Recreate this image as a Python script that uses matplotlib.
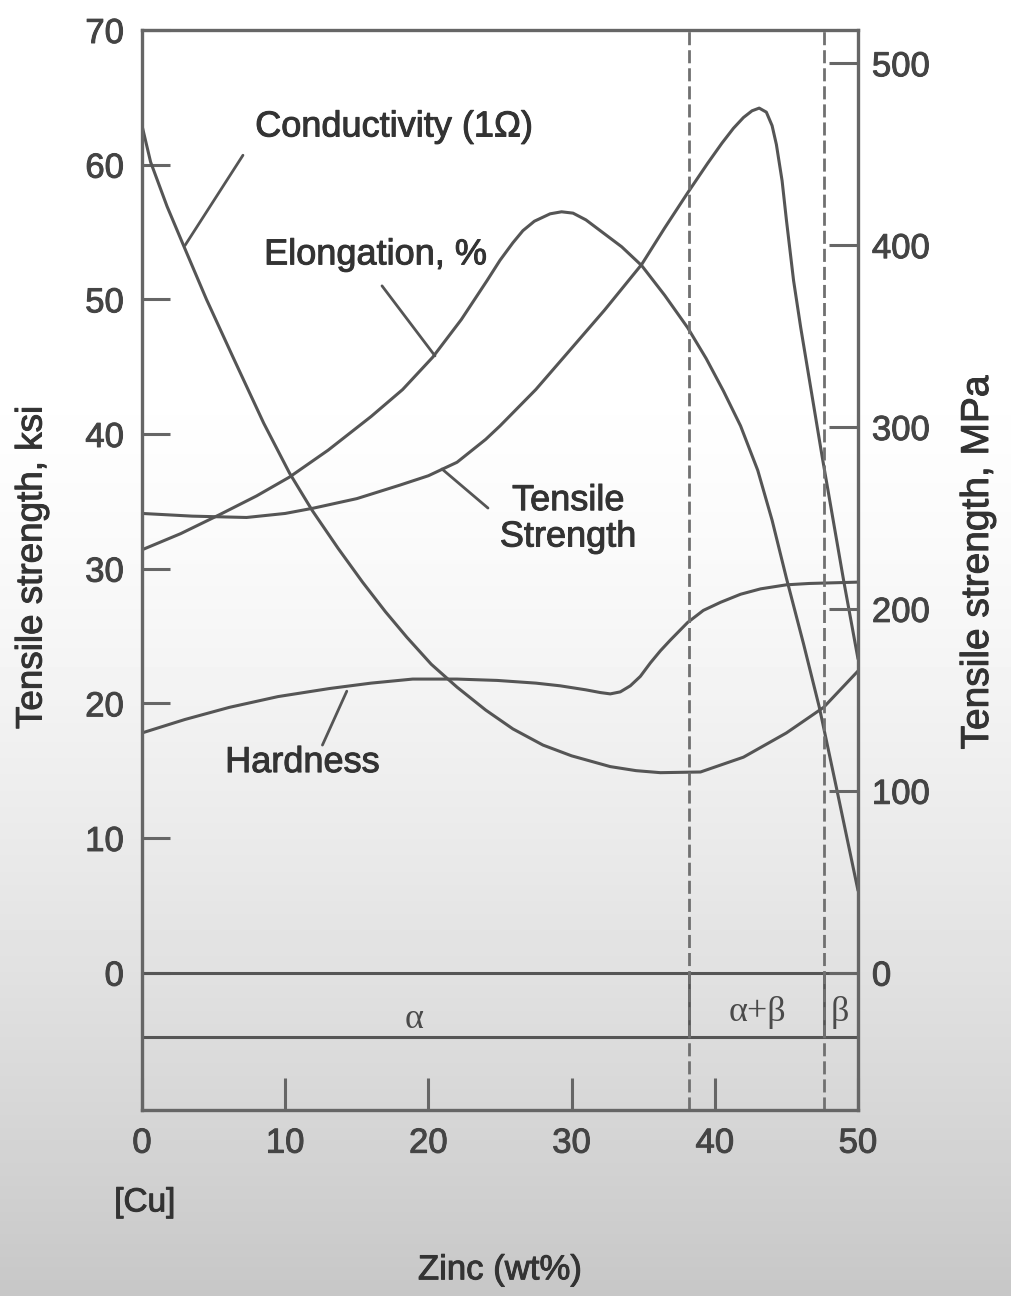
import matplotlib
matplotlib.use('Agg')
import matplotlib.pyplot as plt
import matplotlib.patheffects as pe
import numpy as np

plt.rcParams['font.family'] = ['Liberation Sans', 'DejaVu Sans']

# values (left axis, ksi)
zinc_cond = [0, 0.6, 1.75, 2.9, 4.5, 6.4, 8.5, 10.3, 11.9, 13.7, 15.4, 17.0, 18.5, 20.2,
             22.0, 24.0, 25.9, 28.0, 30.0, 32.7, 34.5, 36.2, 39.0, 42.0, 45.0, 47.6, 50]
conductivity = [62.9, 60.2, 56.9, 54.0, 50.0, 45.6, 40.8, 37.1, 34.3, 31.5, 29.0, 26.8, 24.9, 22.9,
                21.2, 19.5, 18.1, 16.9, 16.1, 15.3, 15.0, 14.85, 14.9, 16.0, 17.8, 19.7, 22.4]

zinc_elong = [0, 2.7, 5.4, 8.0, 10.3, 13.0, 16.0, 18.2, 20.3, 22.3, 24.1, 25.0, 25.9, 26.6, 27.4,
              28.5, 29.3, 30.1, 31.0, 32.0, 33.5, 34.9, 36.5, 38.1, 39.4, 40.6, 41.8, 43.0,
              44.0, 45.0, 46.2, 47.3, 48.5, 50]
elongation = [31.4, 32.6, 34.0, 35.4, 36.8, 38.8, 41.3, 43.3, 45.7, 48.5, 51.4, 52.9, 54.2, 55.1,
              55.8, 56.35, 56.5, 56.4, 55.9, 55.1, 53.9, 52.5, 50.3, 47.9, 45.6, 43.2, 40.6, 37.3,
              33.6, 29.3, 24.4, 19.7, 13.7, 6.1]

zinc_ts = [0, 3.5, 7.3, 10.0, 12.0, 15.0, 18.0, 20.0, 22.0, 24.0, 25.0, 27.5, 29.7, 32.3, 34.9,
           36.5, 38.1, 39.5, 40.5, 41.3, 42.0, 42.6, 43.1, 43.6, 44.0, 44.3, 44.7, 45.0, 45.5,
           46.0, 47.5, 49.0, 50]
tensile = [34.1, 33.9, 33.8, 34.1, 34.5, 35.2, 36.2, 36.9, 37.9, 39.6, 40.6, 43.3, 46.0, 49.2, 52.6,
           55.3, 57.9, 60.1, 61.6, 62.7, 63.5, 64.0, 64.2, 63.9, 62.9, 61.5, 58.8, 55.9, 51.4,
           47.9, 38.3, 29.1, 23.3]

zinc_hard = [0, 3.0, 6.1, 9.5, 13.1, 16.0, 18.9, 22.0, 24.8, 27.5, 29.2, 31.0, 32.0, 32.7, 33.4,
             34.1, 34.8, 35.5, 36.2, 36.9, 38.1, 39.2, 40.4, 41.8, 43.2, 45.0, 46.6, 50]
hardness = [17.8, 18.8, 19.7, 20.5, 21.1, 21.5, 21.8, 21.8, 21.7, 21.5, 21.3, 21.0, 20.8, 20.7, 20.85,
            21.3, 22.0, 23.0, 23.9, 24.7, 26.0, 26.9, 27.5, 28.1, 28.5, 28.8, 28.9, 29.0]

# phase boundaries (wt% Zn)
alpha_limit = 38.2
beta_limit = 47.6
phase_names = ['α', 'α+β', 'β']

ksi_ticks = [0, 10, 20, 30, 40, 50, 60, 70]
mpa_ticks = [0, 100, 200, 300, 400, 500]
zinc_ticks = [0, 10, 20, 30, 40, 50]

line_col = '#555555'
text_col = '#333333'
tick_col = '#444444'
mpa_per_ksi = 7.404          # scale used by the drawing, not the exact conversion
ymin, ymax = -10.2, 70
band_y = -4.8

# scanned text looks a little heavier than plain regular
heavy = [pe.withStroke(linewidth=0.7, foreground=text_col)]

fig = plt.figure(figsize=(10.12, 12.96), dpi=100)

# photo-like grey fade towards the bottom
bg = fig.add_axes([0, 0, 1, 1])
rows = np.linspace(0, 1, 400)
shade = np.where(rows < 0.27, 1.0, 1 - 0.22 * np.clip((rows - 0.27) / 0.73, 0, 1) ** 1.5)
bg.imshow(shade[:, None], cmap='gray', vmin=0, vmax=1, aspect='auto', extent=[0, 1, 0, 1])
bg.set_axis_off()

ax = fig.add_axes([142 / 1012, 186 / 1296, 716 / 1012, 1080 / 1296])
ax.patch.set_alpha(0)

for x, y in [(zinc_cond, conductivity), (zinc_elong, elongation),
             (zinc_ts, tensile), (zinc_hard, hardness)]:
    ax.plot(x, y, color=line_col, lw=2.2, solid_capstyle='round', solid_joinstyle='round')

ax.set_xlim(0, 50)
ax.set_ylim(ymin, ymax)

# phase band under the curves
ax.axhline(0, color=line_col, lw=2.2)
ax.axhline(band_y, color=line_col, lw=2.2)
ax.vlines([alpha_limit, beta_limit], band_y, 0, color=line_col, lw=2.0)
ax.vlines([alpha_limit, beta_limit], ymin, ymax, color='#707070', lw=2.0,
          linestyles=[(0, (4.7, 1.8))])
for xp, name in zip([19.0, 42.95, 48.7], phase_names):
    yp = -4.1 if name == 'α' else -3.6
    ax.text(xp, yp, name, family=['Liberation Serif', 'DejaVu Serif'], fontsize=26,
            color='#4a4a4a', ha='center', va='baseline')

for s in ax.spines.values():
    s.set_color('#666666')
    s.set_linewidth(2.4)

ax.set_yticks(ksi_ticks)
ax.set_xticks(zinc_ticks)
ax.tick_params(axis='y', direction='in', length=20, width=2.2, color='#666666',
               labelsize=25, labelcolor=tick_col, pad=13)
ax.tick_params(axis='x', direction='in', length=23, width=2.2, color='#666666',
               labelsize=25, labelcolor=tick_col, pad=12)

ax2 = ax.twinx()
ax2.set_ylim(ymin * mpa_per_ksi, ymax * mpa_per_ksi)
ax2.set_yticks(mpa_ticks)
ax2.tick_params(axis='y', direction='in', length=21, width=2.2, color='#666666',
                labelsize=25, labelcolor=tick_col, pad=10)
for s in ax2.spines.values():
    s.set_visible(False)

for t in ax.get_xticklabels() + ax.get_yticklabels() + ax2.get_yticklabels():
    t.set_path_effects([pe.withStroke(linewidth=0.7, foreground=tick_col)])

# curve labels with their leader lines
lab = dict(fontsize=26, color=text_col, ha='center', va='center', path_effects=heavy)
ax.text(17.6, 62.8, 'Conductivity (1Ω)', **lab)
ax.text(16.3, 53.3, 'Elongation, %', **lab)
ax.text(29.75, 33.7, 'Tensile\nStrength', linespacing=1.05, **lab)
ax.text(11.2, 15.6, 'Hardness', **lab)

lead = dict(arrowstyle='-', color=line_col, lw=2.0, shrinkA=0, shrinkB=0)
ax.annotate('', xy=(3.0, 54.0), xytext=(7.05, 60.7), arrowprops=lead)
ax.annotate('', xy=(20.46, 45.8), xytext=(16.76, 51.0), arrowprops=lead)
ax.annotate('', xy=(20.95, 37.4), xytext=(24.16, 34.5), arrowprops=lead)
ax.annotate('', xy=(14.3, 20.9), xytext=(12.6, 16.9), arrowprops=lead)

# axis titles
ax.text(-0.1536, 0.502, 'Tensile strength, ksi', transform=ax.transAxes, rotation=90,
        fontsize=26.5, color=text_col, ha='center', va='center', path_effects=heavy)
ax.text(1.1676, 0.507, 'Tensile strength, MPa', transform=ax.transAxes, rotation=90,
        fontsize=28, color=text_col, ha='center', va='center', path_effects=heavy)
ax.text(0.2, -0.086, '[Cu]', transform=ax.get_xaxis_transform(),
        fontsize=24, color=text_col, ha='center', va='center', path_effects=heavy)
ax.text(25, -0.148, 'Zinc (wt%)', transform=ax.get_xaxis_transform(),
        fontsize=25, color=text_col, ha='center', va='center', path_effects=heavy)

fig.savefig('out.png', dpi=100)
